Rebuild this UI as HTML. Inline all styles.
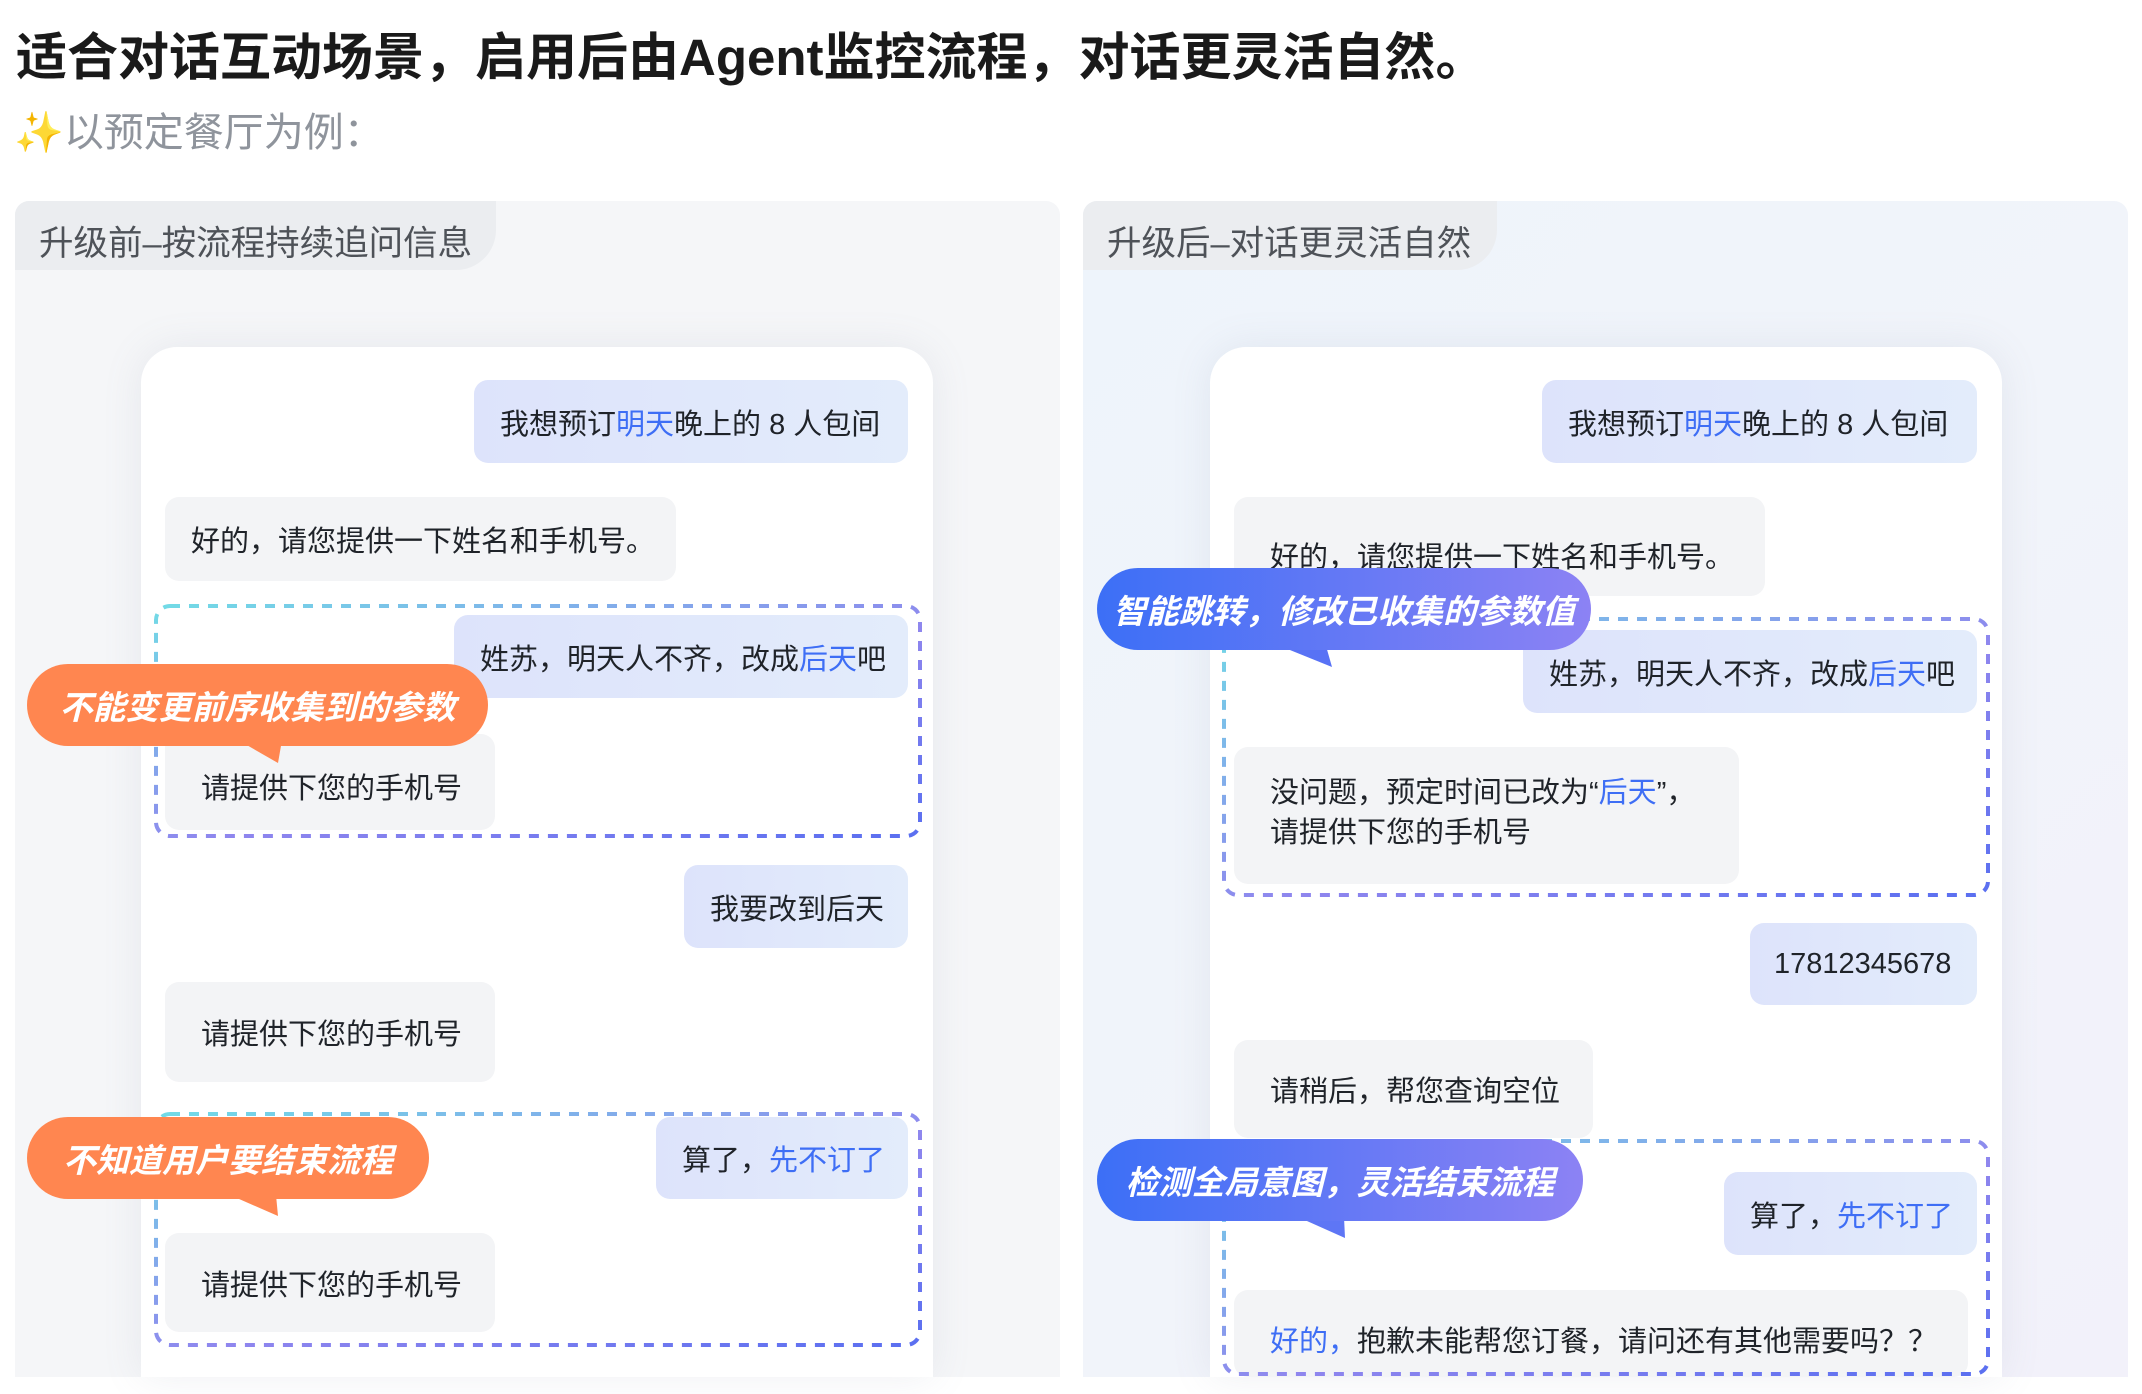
<!DOCTYPE html>
<html><head><meta charset="utf-8">
<style>
*{margin:0;padding:0;box-sizing:border-box}
body{width:2142px;height:1394px;background:#fff;position:relative;overflow:hidden;font-family:"Liberation Sans","Noto Sans CJK SC",sans-serif;color:#1f2329}
.abs{position:absolute}
.title{left:16px;top:16px;font-size:51px;font-weight:700;color:#1a1a1a;white-space:nowrap}
.sub{left:14px;top:100px;font-size:40px;color:#8f949c;white-space:nowrap}
.panel{top:201px;height:1176px;width:1045px;border-radius:14px 14px 0 0;background:#f5f6f8;overflow:hidden}
.tab{left:0;top:0;height:69px;border-radius:0 0 40px 0;background:#ebedf0;font-size:34.5px;color:#4e5258;padding:14px 0 0 24px;white-space:nowrap}
.card{top:347px;height:1030px;width:792px;background:#fff;border-radius:36px 36px 0 0;box-shadow:0 0 40px rgba(120,130,160,0.12)}
.b{position:absolute;border-radius:14px;font-size:29px;display:flex;align-items:center;padding-left:26px;white-space:nowrap;color:#1f2329}
.u{background:linear-gradient(90deg,#dde3fb,#e3ecfb)}
.g{background:#f3f4f6}
.bl{color:#3e6ef5}
.co{position:absolute;border-radius:42px;color:#fff;font-size:33px;font-weight:700;font-style:italic;display:flex;align-items:center;justify-content:center;white-space:nowrap}
.or{background:#ff8650}
.bg{background:linear-gradient(90deg,#3c6ff6,#8c82f4)}
</style></head><body>
<div class="abs title">适合对话互动场景，启用后由Agent监控流程，对话更灵活自然。</div>
<div class="abs sub"><span style="color:#f5c242">✨</span>以预定餐厅为例：</div>

<div class="abs panel" style="left:15px"><div class="abs tab" style="width:481px">升级前–按流程持续追问信息</div></div>
<div class="abs panel" style="left:1083px;background:linear-gradient(135deg,#eef4fb 0%,#f1f4fa 50%,#f2f1fa 100%)"><div class="abs tab" style="width:414px">升级后–对话更灵活自然</div></div>

<div class="abs card" style="left:141px"></div>
<div class="abs card" style="left:1210px"></div>

<!-- left bubbles -->
<div class="b u" style="left:474px;top:380px;width:434px;height:83px">我想预订<span class="bl">明天</span>晚上的 8 人包间</div>
<div class="b g" style="left:165px;top:497px;width:511px;height:84px">好的，请您提供一下姓名和手机号。</div>
<div class="b u" style="left:454px;top:615px;width:454px;height:83px">姓苏，明天人不齐，改成<span class="bl">后天</span>吧</div>
<div class="b g" style="left:165px;top:734px;width:330px;height:96px;padding-left:36px;padding-top:8px">请提供下您的手机号</div>
<div class="b u" style="left:684px;top:865px;width:224px;height:83px">我要改到后天</div>
<div class="b g" style="left:165px;top:982px;width:330px;height:100px;padding-left:36px">请提供下您的手机号</div>
<div class="b u" style="left:656px;top:1117px;width:252px;height:82px">算了，<span class="bl">先不订了</span></div>
<div class="b g" style="left:165px;top:1233px;width:330px;height:99px;padding-left:36px">请提供下您的手机号</div>

<!-- right bubbles -->
<div class="b u" style="left:1542px;top:380px;width:435px;height:83px">我想预订<span class="bl">明天</span>晚上的 8 人包间</div>
<div class="b g" style="left:1234px;top:497px;width:531px;height:99px;padding-left:36px;padding-top:16px">好的，请您提供一下姓名和手机号。</div>
<div class="b u" style="left:1523px;top:630px;width:454px;height:83px">姓苏，明天人不齐，改成<span class="bl">后天</span>吧</div>
<div class="b g" style="left:1234px;top:747px;width:505px;height:137px;padding-left:36px;line-height:40px;display:block;padding-top:26px">没问题，预定时间已改为“<span class="bl">后天</span>”，<br>请提供下您的手机号</div>
<div class="b u" style="left:1750px;top:923px;width:227px;height:82px;padding-left:24px">17812345678</div>
<div class="b g" style="left:1234px;top:1040px;width:359px;height:98px;padding-left:36px">请稍后，帮您查询空位</div>
<div class="b u" style="left:1724px;top:1172px;width:253px;height:83px">算了，<span class="bl">先不订了</span></div>
<div class="b g" style="left:1234px;top:1290px;width:734px;height:87px;padding-left:36px;padding-top:10px"><span class="bl">好的，</span>抱歉未能帮您订餐，请问还有其他需要吗？？</div>

<svg class="abs" style="left:0;top:0" width="2142" height="1394">
<defs>
<linearGradient id="dg" x1="0" y1="0" x2="1" y2="1">
<stop offset="0" stop-color="#72dbe6"/><stop offset="0.55" stop-color="#8f86ee"/><stop offset="1" stop-color="#5a6ff0"/>
</linearGradient>
</defs>
<g fill="none" stroke-width="4" stroke-dasharray="10 9">
<rect x="156" y="606" width="764" height="230" rx="14" stroke="url(#dg)"/>
<rect x="156" y="1114" width="764" height="231" rx="14" stroke="url(#dg)"/>
<rect x="1224" y="619" width="764" height="276" rx="14" stroke="url(#dg)"/>
<rect x="1224" y="1141" width="764" height="233" rx="14" stroke="url(#dg)"/>
</g>
<polygon points="238,740 282,740 278,763" fill="#ff8650"/>
<polygon points="230,1195 276,1195 278,1216" fill="#ff8650"/>
<polygon points="1280,646 1326,646 1332,667" fill="#5872f5"/>
<polygon points="1298,1217 1344,1217 1345,1238" fill="#5e76f5"/>
</svg>

<div class="co or" style="left:27px;top:664px;width:461px;height:82px">不能变更前序收集到的参数</div>
<div class="co or" style="left:27px;top:1117px;width:402px;height:82px">不知道用户要结束流程</div>
<div class="co bg" style="left:1097px;top:568px;width:494px;height:82px">智能跳转，修改已收集的参数值</div>
<div class="co bg" style="left:1097px;top:1139px;width:486px;height:82px">检测全局意图，灵活结束流程</div>
</body></html>
